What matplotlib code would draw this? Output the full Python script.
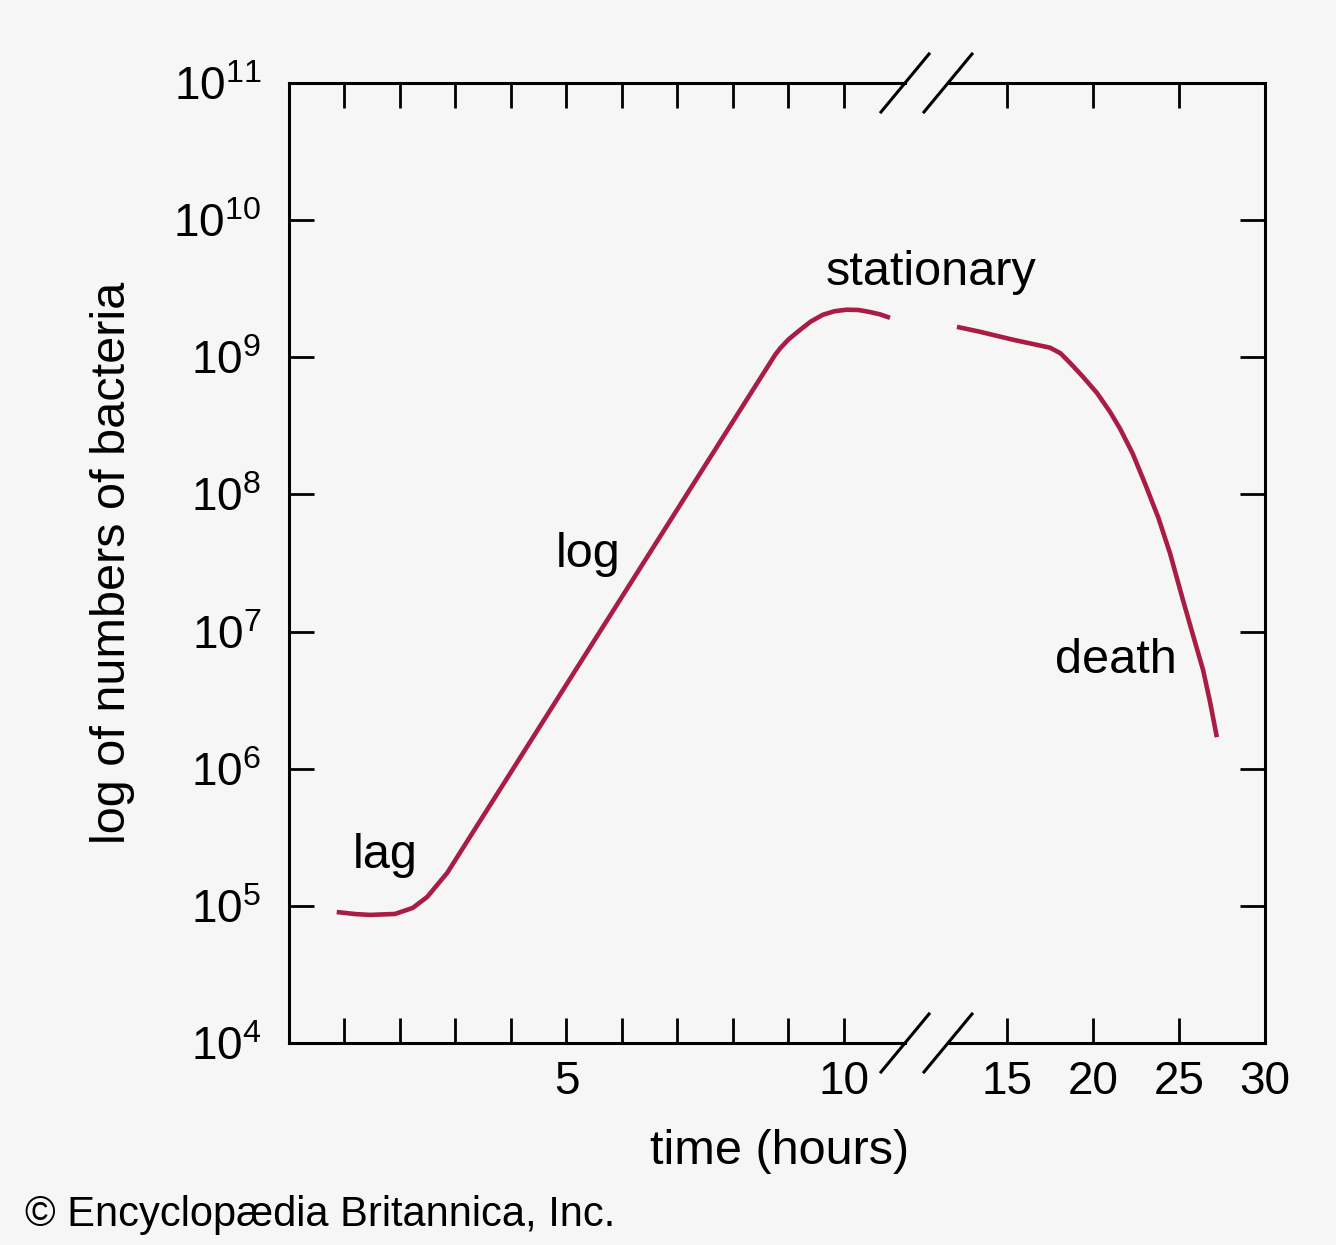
"""
Bacterial growth curve (lag / log / stationary / death) with a broken time axis.
"""

import matplotlib
matplotlib.use("Agg")
import matplotlib.pyplot as plt
from matplotlib.lines import Line2D
import numpy as np

# ---- data ------------------------------------------------------------------
# early part of the curve (0 - 11 h, left segment of the broken axis)
hours_early = [0.86, 1.20, 1.46, 1.91, 2.23, 2.49, 2.85, 8.76, 8.85, 9.0, 9.21,
               9.4, 9.62, 9.83, 10.05, 10.26, 10.47, 10.65, 10.83]
log_count_early = [4.955, 4.94, 4.934, 4.941, 4.985, 5.065, 5.24, 9.018, 9.065,
                   9.13, 9.20, 9.26, 9.31, 9.336, 9.347, 9.345, 9.33, 9.313, 9.288]

# late part of the curve (right segment, 12 - 30 h)
hours_late = [12.09, 13.43, 15.35, 17.5, 18.1, 18.66, 19.4, 20.23, 21.0, 21.57,
              22.3, 23.02, 23.8, 24.48, 25.23, 25.8, 26.4, 26.8, 27.2]
log_count_late = [9.222, 9.186, 9.128, 9.07, 9.03, 8.96, 8.86, 8.74, 8.60, 8.48,
                  8.30, 8.08, 7.83, 7.57, 7.23, 6.98, 6.72, 6.49, 6.23]

early_ticks = list(range(1, 11))
early_labels = ["5", "10"]
late_ticks = [15, 20, 25, 30]

phase_labels = ["lag", "log", "stationary", "death"]

LINE_COLOR = "#a81c45"
BG = "#f6f6f6"

plt.rcParams["font.family"] = ["Liberation Sans", "DejaVu Sans"]
plt.rcParams["mathtext.fontset"] = "custom"
plt.rcParams["mathtext.rm"] = "Liberation Sans"
plt.rcParams["mathtext.default"] = "regular"

W, H = 1336, 1245
fig = plt.figure(figsize=(W / 100, H / 100), dpi=100, facecolor=BG)


def px_box(x0, y0, x1, y1):
    """pixel box (top-left origin) -> figure fraction [l, b, w, h]"""
    return [x0 / W, 1 - y1 / H, (x1 - x0) / W, (y1 - y0) / H]


ax_l = fig.add_axes(px_box(289, 83, 905, 1043))
ax_r = fig.add_axes(px_box(948, 83, 1265, 1043))

ax_l.plot(hours_early, 10 ** np.array(log_count_early), color=LINE_COLOR,
          lw=3.3, solid_capstyle="butt", solid_joinstyle="round")
ax_r.plot(hours_late, 10 ** np.array(log_count_late), color=LINE_COLOR,
          lw=3.3, solid_capstyle="butt", solid_joinstyle="round")

for ax in (ax_l, ax_r):
    ax.patch.set_visible(False)
    ax.set_yscale("log")
    ax.set_ylim(1e4, 1e11)
    ax.set_yticks([10.0 ** k for k in range(4, 12)])
    ax.minorticks_off()
    for s in ax.spines.values():
        s.set_linewidth(2.2)
    ax.tick_params(axis="both", which="major", direction="in", length=18,
                   width=2.0, labelsize=33, top=True, pad=12)

ax_l.set_xlim(0, 11.10)
ax_r.set_xlim(11.57, 30)

ax_l.spines["right"].set_visible(False)
ax_r.spines["left"].set_visible(False)

ax_l.set_xticks(early_ticks)
ax_l.set_xticklabels([str(t) if str(t) in early_labels else "" for t in early_ticks])
ax_l.tick_params(axis="y", left=True, right=False, pad=20)

ax_r.set_xticks(late_ticks)
ax_r.set_xticklabels([str(t) for t in late_ticks])
ax_r.tick_params(axis="y", left=False, right=True, labelleft=False)

# axis labels
ax_l.set_ylabel("log of numbers of bacteria", fontsize=35)
ax_l.yaxis.set_label_coords(-0.25, 0.5)
fig.text(780 / W, 1 - 1152 / H, "time (hours)", fontsize=35,
         ha="center", va="center")

# phase names
ax_l.text(1.73, 10 ** 5.37, phase_labels[0], fontsize=35, ha="center", va="center")
ax_l.text(5.39, 10 ** 7.56, phase_labels[1], fontsize=35, ha="center", va="center")
ax_l.text(11.57, 10 ** 9.62, phase_labels[2], fontsize=35, ha="center",
          va="center", clip_on=False)
ax_r.text(21.34, 10 ** 6.79, phase_labels[3], fontsize=35, ha="center", va="center")

# break marks on top and bottom spines
for xc in (905, 948):
    for yc in (83, 1043):
        fig.add_artist(Line2D([(xc - 24) / W, (xc + 24) / W],
                              [1 - (yc + 29) / H, 1 - (yc - 29) / H],
                              color="black", lw=2.2))

fig.text(25 / W, 1 - 1215 / H, "\u00a9 Encyclop\u00e6dia Britannica, Inc.",
         fontsize=30, ha="left", va="center")

fig.savefig("out.png", dpi=100, facecolor=BG)
